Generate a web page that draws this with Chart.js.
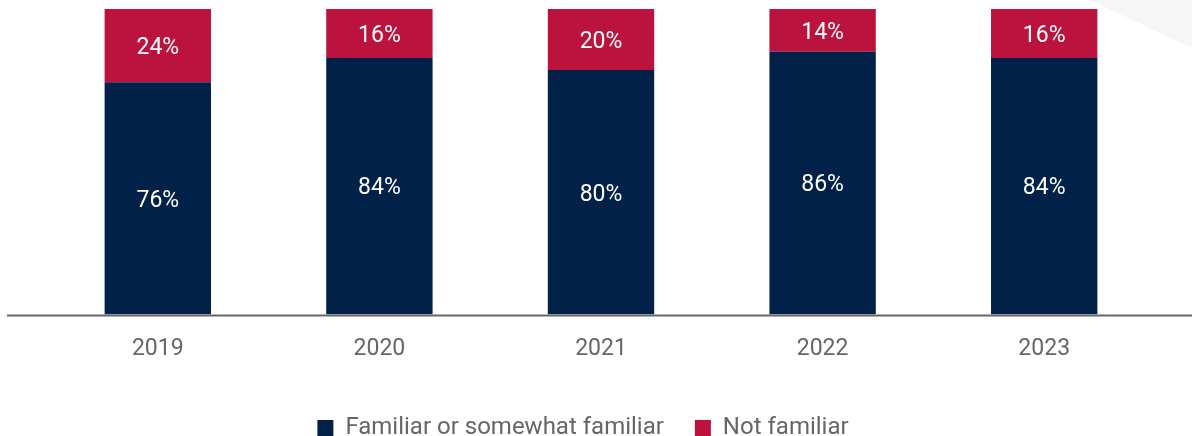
<!DOCTYPE html>
<html>
<head>
<meta charset="utf-8">
<script src="https://cdn.jsdelivr.net/npm/chart.js@4"></script>
<style>
html,body{margin:0;padding:0;background:#fff;overflow:hidden;}
#wrap{width:1192px;height:436px;position:relative;overflow:hidden;}
</style>
</head>
<body>
<div id="wrap"><canvas id="c" width="1192" height="450"></canvas></div>
<script>
const categories = ["2019", "2020", "2021", "2022", "2023"];
const familiar = [76, 84, 80, 86, 84];
const notFamiliar = [24, 16, 20, 14, 16];
const seriesNames = ["Familiar or somewhat familiar", "Not familiar"];

const navy = "#012148";
const red = "#bc133e";

const bgPlugin = {
  id: "bgdeco",
  beforeDraw(chart) {
    const ctx = chart.ctx;
    const w = chart.width;
    ctx.save();
    ctx.fillStyle = "#f6f6f6";
    ctx.beginPath();
    ctx.moveTo(w - 102, 0);
    ctx.lineTo(w, 0);
    ctx.lineTo(w, 48);
    ctx.closePath();
    ctx.fill();
    ctx.restore();
  }
};

const legendShiftPlugin = {
  id: "legendshift",
  afterLayout(chart) {
    const lg = chart.legend;
    if (lg) { lg.left -= 18; lg.right -= 18; }
  }
};

const axisLinePlugin = {
  id: "axisline",
  afterDatasetsDraw(chart) {
    const ctx = chart.ctx;
    const y = chart.scales.y.getPixelForValue(0);
    ctx.save();
    ctx.strokeStyle = "#666666";
    ctx.lineWidth = 2;
    ctx.beginPath();
    ctx.moveTo(7, y + 1);
    ctx.lineTo(chart.width, y + 1);
    ctx.stroke();
    ctx.restore();
  }
};

const labelPlugin = {
  id: "seglabels",
  afterDatasetsDraw(chart) {
    const ctx = chart.ctx;
    ctx.save();
    ctx.fillStyle = "#ffffff";
    ctx.font = "23px Roboto";
    ctx.textAlign = "center";
    ctx.textBaseline = "middle";
    chart.data.datasets.forEach((ds, i) => {
      const meta = chart.getDatasetMeta(i);
      meta.data.forEach((bar, j) => {
        const cy = (bar.y + bar.base) / 2;
        ctx.fillText(ds.data[j] + "%", bar.x, cy + 2.5);
      });
    });
    ctx.restore();
  }
};

new Chart(document.getElementById("c"), {
  type: "bar",
  data: {
    labels: categories,
    datasets: [
      { label: seriesNames[0], data: familiar, backgroundColor: navy, stack: "s" },
      { label: seriesNames[1], data: notFamiliar, backgroundColor: red, stack: "s" }
    ]
  },
  options: {
    responsive: false,
    animation: false,
    devicePixelRatio: 1,
    layout: { padding: { top: 9, left: 47, right: 37, bottom: 0 } },
    datasets: { bar: { barPercentage: 0.48, categoryPercentage: 1 } },
    scales: {
      x: {
        stacked: true,
        grid: { display: false, drawTicks: false },
        border: { display: false },
        ticks: { color: "#666666", font: { family: "Roboto", size: 23 }, padding: 21 },
        afterFit(scale) { scale.height = 70.5; }
      },
      y: {
        stacked: true,
        display: false,
        min: 0,
        max: 100
      }
    },
    plugins: {
      legend: {
        position: "bottom",
        labels: {
          color: "#666666",
          font: { family: "Roboto", size: 24 },
          boxWidth: 16,
          boxHeight: 16,
          padding: 31
        }
      },
      tooltip: { enabled: false }
    }
  },
  plugins: [bgPlugin, legendShiftPlugin, axisLinePlugin, labelPlugin]
});
</script>
</body>
</html>
